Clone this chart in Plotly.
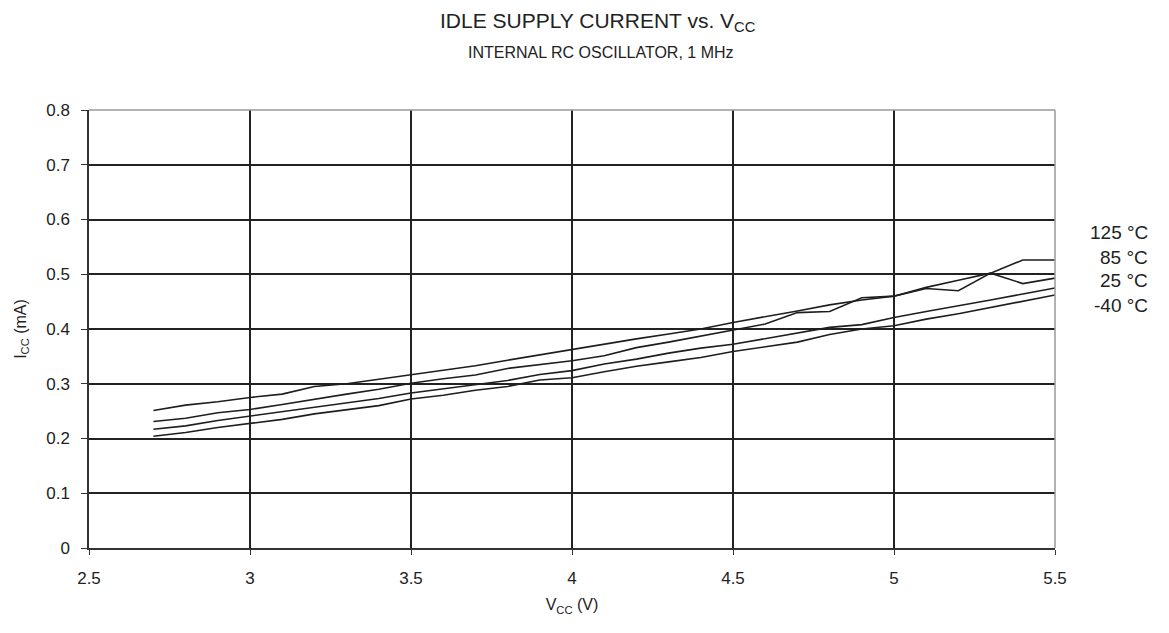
import plotly.graph_objects as go

vcc = [2.7, 2.8, 2.9, 3.0, 3.1, 3.2, 3.3, 3.4, 3.5, 3.6, 3.7, 3.8, 3.9, 4.0, 4.1,
       4.2, 4.3, 4.4, 4.5, 4.6, 4.7, 4.8, 4.9, 5.0, 5.1, 5.2, 5.3, 5.4, 5.5]

icc_125 = [0.251, 0.261, 0.267, 0.275, 0.281, 0.295, 0.300, 0.308, 0.316, 0.324,
           0.333, 0.343, 0.353, 0.362, 0.372, 0.382, 0.391, 0.400, 0.412, 0.422,
           0.433, 0.444, 0.453, 0.460, 0.476, 0.489, 0.502, 0.526, 0.526]
icc_85 = [0.231, 0.237, 0.247, 0.253, 0.262, 0.272, 0.281, 0.290, 0.301, 0.309,
          0.316, 0.328, 0.335, 0.342, 0.351, 0.366, 0.376, 0.387, 0.397, 0.409,
          0.430, 0.432, 0.457, 0.460, 0.474, 0.470, 0.502, 0.483, 0.493]
icc_25 = [0.217, 0.223, 0.233, 0.241, 0.249, 0.257, 0.265, 0.273, 0.283, 0.291,
          0.298, 0.306, 0.317, 0.324, 0.336, 0.345, 0.356, 0.365, 0.372, 0.382,
          0.392, 0.403, 0.408, 0.421, 0.432, 0.442, 0.453, 0.464, 0.475]
icc_m40 = [0.204, 0.211, 0.220, 0.228, 0.235, 0.245, 0.253, 0.260, 0.272, 0.279,
           0.288, 0.295, 0.307, 0.311, 0.322, 0.332, 0.340, 0.348, 0.359, 0.367,
           0.376, 0.390, 0.400, 0.406, 0.418, 0.428, 0.439, 0.450, 0.462]

series_names = ["125 °C", "85 °C", "25 °C", "-40 °C"]
series_values = [icc_125, icc_85, icc_25, icc_m40]
label_y = [0.577, 0.5315, 0.4877, 0.4438]

x_ticks = [2.5, 3, 3.5, 4, 4.5, 5, 5.5]
x_tick_text = ["2.5", "3", "3.5", "4", "4.5", "5", "5.5"]
y_ticks = [0, 0.1, 0.2, 0.3, 0.4, 0.5, 0.6, 0.7, 0.8]
y_tick_text = ["0", "0.1", "0.2", "0.3", "0.4", "0.5", "0.6", "0.7", "0.8"]

FONT = "Liberation Sans, Arial, sans-serif"

fig = go.Figure()
for name, vals in zip(series_names, series_values):
    fig.add_trace(go.Scatter(x=vcc, y=vals, mode="lines", name=name,
                             line=dict(color="#1e1e1e", width=1.6),
                             showlegend=False, hoverinfo="x+y+name"))

for name, yv in zip(series_names, label_y):
    fig.add_annotation(x=1.098, xref="paper", y=yv, yref="y", text=name,
                       showarrow=False, xanchor="right", yanchor="middle",
                       font=dict(family=FONT, size=19, color="#222"))

fig.add_annotation(x=0.527, xref="paper", y=1.2009, yref="paper",
                   text="IDLE SUPPLY CURRENT vs. V<sub>CC</sub>",
                   showarrow=False, xanchor="center", yanchor="middle",
                   font=dict(family=FONT, size=21, color="#222"))
fig.add_annotation(x=0.53, xref="paper", y=1.132, yref="paper",
                   text="INTERNAL RC OSCILLATOR, 1 MHz",
                   showarrow=False, xanchor="center", yanchor="middle",
                   font=dict(family=FONT, size=16, color="#222"))

# light frame on top and right edges
fig.add_shape(type="line", xref="paper", yref="paper", x0=0, x1=1, y0=1, y1=1,
              line=dict(color="#999", width=1.5))
fig.add_shape(type="line", xref="paper", yref="paper", x0=1, x1=1, y0=0, y1=1,
              line=dict(color="#999", width=1.5))

fig.update_layout(
    width=1169, height=633,
    margin=dict(l=81, r=122, t=102, b=93),
    paper_bgcolor="white", plot_bgcolor="white",
    font=dict(family=FONT, size=17, color="#222"),
    xaxis=dict(range=[2.5, 5.5], tickvals=x_ticks, ticktext=x_tick_text,
               showgrid=True, gridcolor="#222", gridwidth=1.5,
               showline=True, linecolor="#333", linewidth=1.5,
               ticks="outside", ticklen=5, tickcolor="#333",
               ticklabelstandoff=9,
               zeroline=False, tickfont=dict(size=17),
               title=dict(text="V<sub>CC</sub> (V)", font=dict(size=16), standoff=12)),
    yaxis=dict(range=[0, 0.8], tickvals=y_ticks, ticktext=y_tick_text,
               showgrid=True, gridcolor="#222", gridwidth=1.5,
               showline=True, linecolor="#333", linewidth=1.5,
               ticks="outside", ticklen=6, tickcolor="#333",
               ticklabelstandoff=8,
               zeroline=False, tickfont=dict(size=17),
               title=dict(text="I<sub>CC</sub> (mA)", font=dict(size=16), standoff=16)),
)

fig.write_html("out.html")
